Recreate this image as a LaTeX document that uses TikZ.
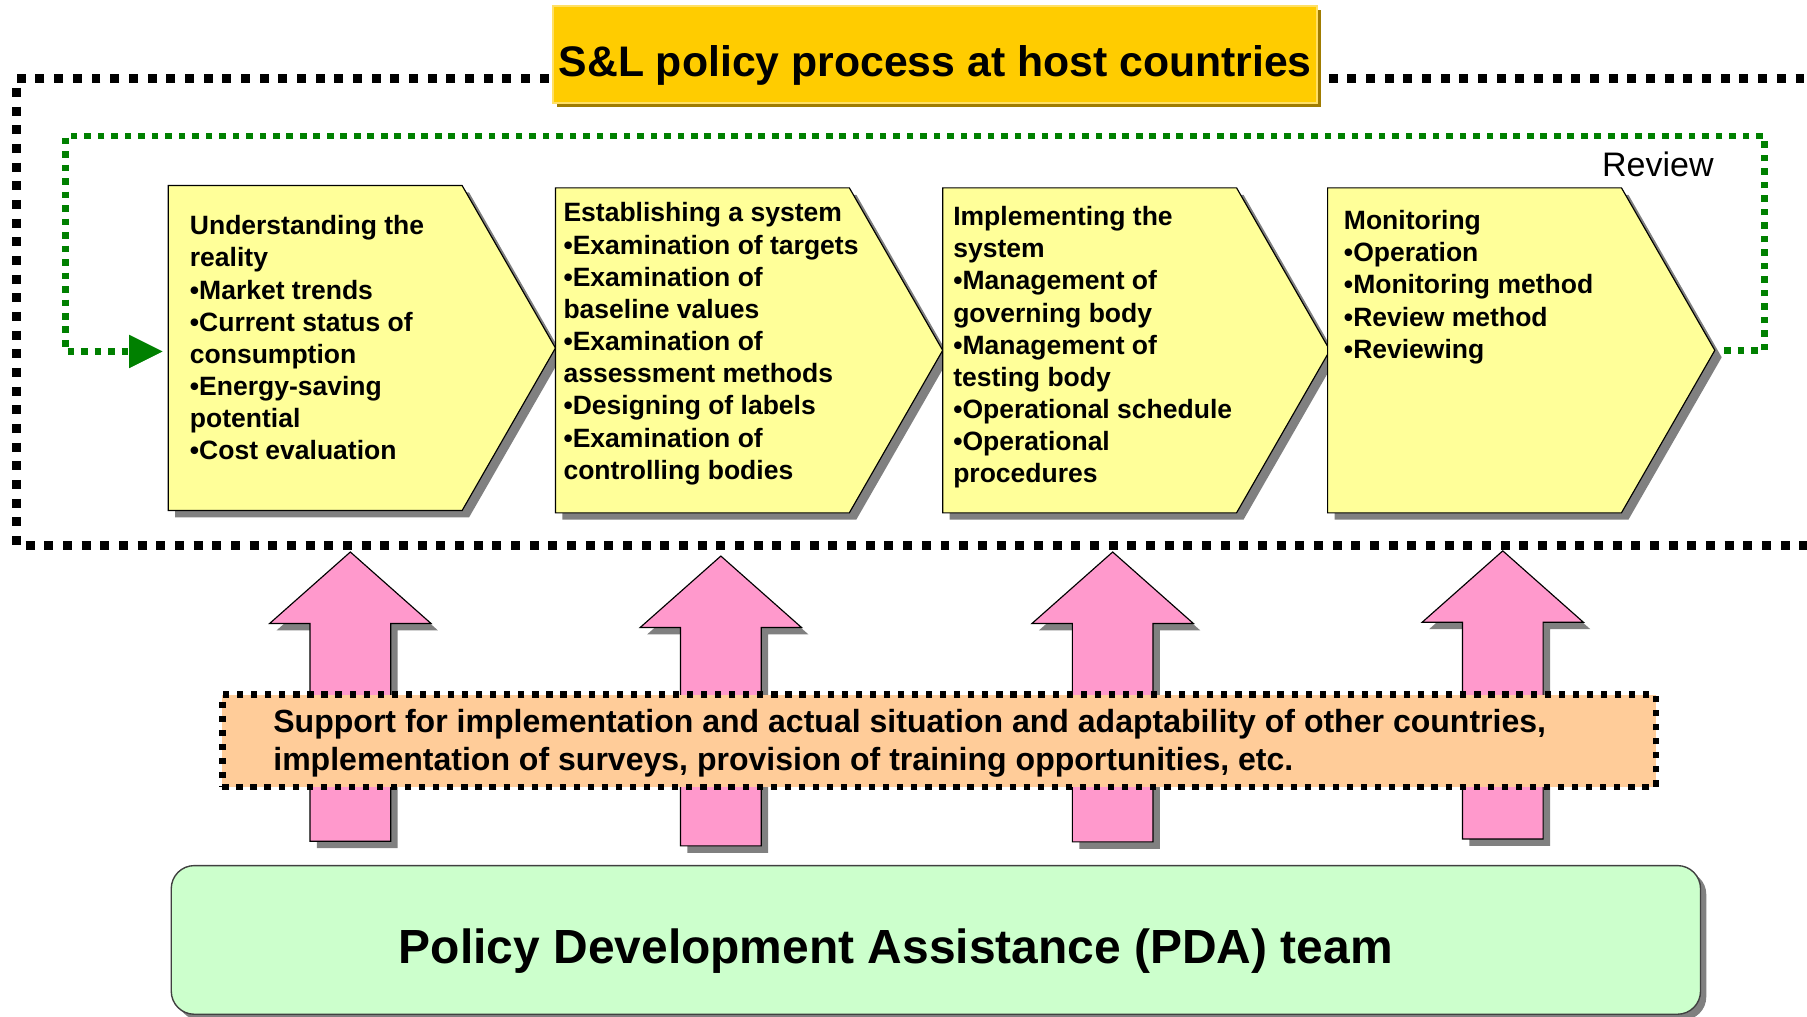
\documentclass[tikz,border=0pt]{standalone}
\usepackage{fontspec}
\setmainfont{Liberation Sans}
\usetikzlibrary{arrows.meta,shadows}
\definecolor{chevyellow}{HTML}{FFFF99}
\definecolor{arrowpink}{HTML}{FF99CC}
\definecolor{peach}{HTML}{FFCC99}
\definecolor{mint}{HTML}{CCFFCC}
\definecolor{gold}{HTML}{FFCC00}
\definecolor{goldedge}{HTML}{FFE066}
\definecolor{goldshadow}{HTML}{A07C00}
\definecolor{shade}{HTML}{808080}
\definecolor{loopgreen}{HTML}{008000}
\definecolor{pdaedge}{HTML}{404040}
\newcommand\ChevShape[2]{(#1,#2) -- ++(255,0) -- ++(81,141) -- ++(-81,141) -- ++(-255,0) -- cycle}
\newcommand\UpArrowShape[3]{(#1,#2) -- (#1+70,#2+62) -- (#1+35,#2+62) -- (#1+35,#3) -- (#1-35,#3) -- (#1-35,#2+62) -- (#1-70,#2+62) -- cycle}
\begin{document}
\begin{tikzpicture}[x=1pt,y=-1pt,
  outerdots/.style={draw=black,line width=7.8pt,dash pattern=on 7.8pt off 8.4pt},
  greendots/.style={draw=loopgreen,line width=5.8pt,dash pattern=on 5.8pt off 5.9pt},
  chevron/.style={fill=chevyellow,draw=black,line width=1pt,line join=miter},
  shadowfill/.style={fill=shade},
  chevtext/.style={anchor=base west,align=left,inner sep=0pt,font=\fontsize{23}{27.9}\selectfont\bfseries},
  uparrow/.style={fill=arrowpink,draw=black,line width=1pt,line join=miter},
  titlebox/.style={fill=gold,draw=goldedge,line width=1.5pt,minimum width=663pt,minimum height=84.6pt,inner sep=0pt,
    text height=37.4pt,text depth=0pt,font=\fontsize{37.1}{44}\selectfont\bfseries,
    drop shadow={shadow xshift=3.5pt,shadow yshift=-3.5pt,fill=goldshadow,opacity=1}},
  supportbox/.style={fill=peach,draw=black,line width=5.8pt,dash pattern=on 5.4pt off 6.8pt,inner sep=0pt},
  pdabox/.style={fill=mint,draw=pdaedge,line width=1.2pt,rounded corners=20pt,inner sep=0pt,
    drop shadow={shadow xshift=5pt,shadow yshift=-5pt,fill=shade,opacity=1}},
]
\useasboundingbox (0,0) rectangle (1568,882);

% outer dotted frame
\draw[outerdots] (476,68.5) -- (14,68.5) -- (14,473) -- (1580,473);
\draw[outerdots] (1153,68.5) -- (1580,68.5);

% title
\node[titlebox] (title) at (811.5,47.3) {S\&L policy process at host countries};

% chevrons
\fill[shadowfill,shift={(6,6)}] \ChevShape{146}{161};
\draw[chevron] \ChevShape{146}{161};
\fill[shadowfill,shift={(6,6)}] \ChevShape{482}{163};
\draw[chevron] \ChevShape{482}{163};
\fill[shadowfill,shift={(6,6)}] \ChevShape{818}{163};
\draw[chevron] \ChevShape{818}{163};
\fill[shadowfill,shift={(6,6)}] \ChevShape{1152}{163};
\draw[chevron] \ChevShape{1152}{163};
\coordinate (c1w) at (146,305);
\coordinate (c4tip) at (1489,304);
\coordinate (loopne) at (1531,118);
\coordinate (loopsw) at (57,305);

% (base anchor = baseline of the last line)
\node[chevtext] (u1) at (164.6,399) {Understanding the\\reality\\•Market trends\\•Current status of\\consumption\\•Energy-saving\\potential\\•Cost evaluation};
\node[chevtext] (u2) at (488.8,415.8) {Establishing a system\\•Examination of targets\\•Examination of\\baseline values\\•Examination of\\assessment methods\\•Designing of labels\\•Examination of\\controlling bodies};
\node[chevtext] (u3) at (827,419) {Implementing the\\system\\•Management of\\governing body\\•Management of\\testing body\\•Operational schedule\\•Operational\\procedures};
\node[chevtext] (u4) at (1166,310.8) {Monitoring\\•Operation\\•Monitoring method\\•Review method\\•Reviewing};

% review loop
\draw[greendots,-{Triangle[length=29pt,width=29pt,line width=0.1pt]}] ([xshift=7pt]c4tip) -| (loopne) -| (loopsw) -- ([xshift=-5pt]c1w);
\node[anchor=base west,inner sep=0pt,font=\fontsize{29.5}{35}\selectfont] (review) at (1390,153) {Review};

% support arrows
\fill[shadowfill,shift={(6,6)}] \UpArrowShape{304}{479}{730};
\draw[uparrow] \UpArrowShape{304}{479}{730};
\fill[shadowfill,shift={(6,6)}] \UpArrowShape{625.5}{482.5}{734};
\draw[uparrow] \UpArrowShape{625.5}{482.5}{734};
\fill[shadowfill,shift={(6,6)}] \UpArrowShape{965.5}{479}{730.5};
\draw[uparrow] \UpArrowShape{965.5}{479}{730.5};
\fill[shadowfill,shift={(6,6)}] \UpArrowShape{1304}{478}{728};
\draw[uparrow] \UpArrowShape{1304}{478}{728};

% support box
\node[supportbox,anchor=north west,minimum width=1244pt,minimum height=80pt] (support) at (190,600) {};
\node[anchor=base west,align=left,inner sep=0pt,font=\fontsize{27.8}{33.2}\selectfont\bfseries] (supporttext) at (237,669)
  {Support for implementation and actual situation and adaptability of other countries,\\implementation of surveys, provision of training opportunities, etc.};

% PDA team
\node[pdabox,anchor=north west,minimum width=1327pt,minimum height=129pt] (pda) at (148,750.5) {};
\node[anchor=base west,inner sep=0pt,font=\fontsize{41.6}{50}\selectfont\bfseries] (pdatext) at (346,836) {Policy Development Assistance (PDA) team};
\end{tikzpicture}
\end{document}
